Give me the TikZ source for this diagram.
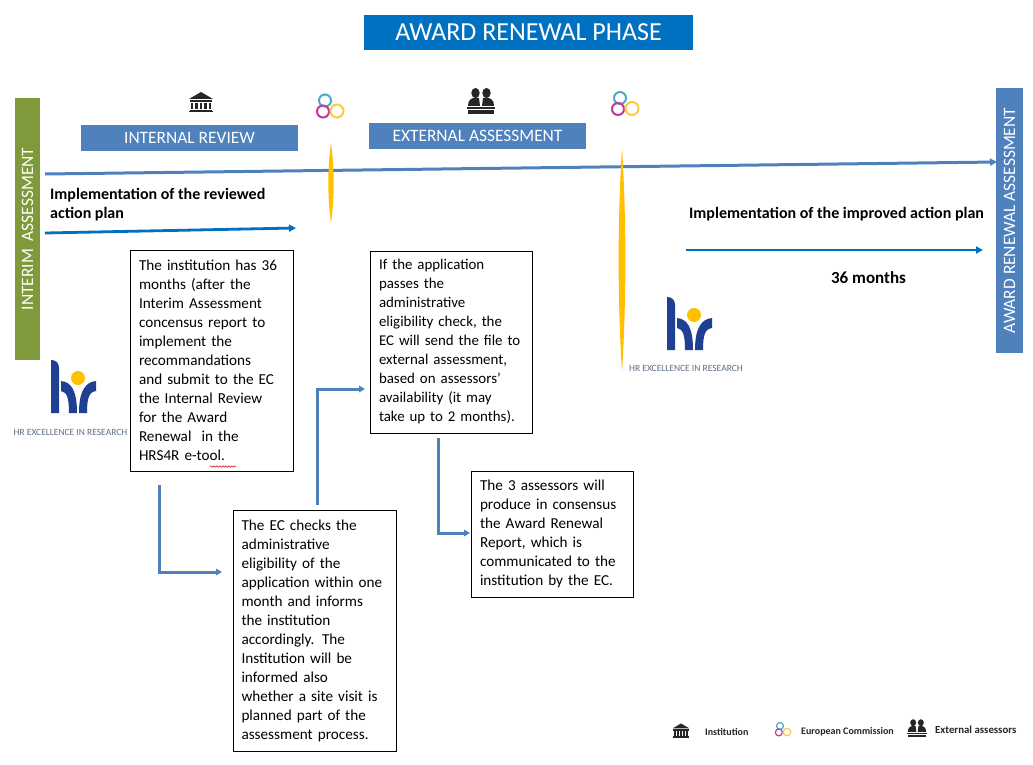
\documentclass[tikz,border=0pt]{standalone}
\usepackage{fontspec}
\setmainfont{Carlito}
\usetikzlibrary{arrows.meta,decorations.pathmorphing}
\definecolor{titleblue}{HTML}{0070C0}
\definecolor{bandblue}{HTML}{4F81BD}
\definecolor{olive}{HTML}{7F9A3B}
\definecolor{gold}{HTML}{FFC000}
\definecolor{hrblue}{HTML}{1F3F93}
\definecolor{hrgrey}{HTML}{5F6E88}
\definecolor{icon}{HTML}{262626}
\definecolor{ringteal}{HTML}{4BACC6}
\definecolor{ringmag}{HTML}{C0399B}
\definecolor{ringyel}{HTML}{FFC83D}
\tikzset{
  band/.style={fill=bandblue,text=white,inner sep=0pt,font=\fontsize{17.4}{20}\selectfont},
  textbox/.style={draw=black,line width=0.9pt,fill=white,align=left,inner xsep=8.5pt,inner ysep=0pt,
    font=\fontsize{15.2}{19}\selectfont},
  strong/.style={font=\fontsize{16}{19}\selectfont\bfseries,align=left,inner sep=0pt},
  legendtxt/.style={font=\fontsize{10}{12}\selectfont\bfseries,inner sep=0pt,text=icon,anchor=west},
  hrtxt/.style={font=\fontsize{9.5}{12}\selectfont,text=hrgrey,inner sep=0pt},
  mainarrow/.style={draw=titleblue,line width=2.8pt,-{Triangle[length=7pt,width=7pt]}},
  longarrow/.style={draw=bandblue,line width=3pt,-{Triangle[length=7pt,width=7pt]}},
  elbow/.style={draw=bandblue,line width=3pt,-{Triangle[length=6pt,width=6.5pt]}},
  pics/rings/.style={code={
    \draw[line width=#1pt,draw=ringteal] (0,0) circle (6);
    \draw[line width=#1pt,draw=ringmag] (-2,11) circle (6);
    \draw[line width=#1pt,draw=ringyel] (12,10.5) circle (6.5);
  }},
  pics/bank/.style={code={
    \fill[icon] (0,-10) -- (12,-3) -- (-12,-3) -- cycle;
    \fill[icon] (-11,-2) rectangle (11,0);
    \foreach \q in {-9,-4.5,0,4.5,9}{\fill[icon] (\q-1.4,1) rectangle (\q+1.4,7.5);}
    \fill[icon] (-11,8) rectangle (11,9.5);
    \fill[icon] (-12,9.5) rectangle (12,10.5);
  }},
  pics/assessors/.style={code={
    \fill[icon] (-5.5,-9) ellipse [x radius=4.2,y radius=5];
    \fill[icon] (5.5,-9) ellipse [x radius=4.2,y radius=5];
    \fill[icon] (-13,4) .. controls (-13,-2) and (-10,-4) .. (-5,-4.5) -- (-2,-4) -- (-1,4) -- cycle;
    \fill[icon] (13,4) .. controls (13,-2) and (10,-4) .. (5,-4.5) -- (2,-4) -- (1,4) -- cycle;
    \fill[icon] (-14,5) rectangle (14,7);
    \fill[icon] (-13,8) rectangle (13,12);
  }},
  pics/hrlogo/.style={code={
    \fill[hrblue] (0,0) .. controls (5,0) and (8,3) .. (8,8) -- (8,53) -- (0,53) -- cycle;
    \fill[hrblue] (10,21) .. controls (20,22) and (26,30) .. (26,53) -- (18,53)
       .. controls (18,38) and (16,32) .. (10,31) -- cycle;
    \fill[hrblue] (45,21) .. controls (35,22) and (28,30) .. (28,53) -- (36,53)
       .. controls (36,38) and (38,32) .. (45,31) -- cycle;
    \fill[gold] (27,18) circle (7);
  }},
}
\begin{document}
\begin{tikzpicture}[x=1pt,y=-1pt]
\useasboundingbox (0,0) rectangle (1033,765);
\fill[white] (0,0) rectangle (1033,765);

% title and bands
\node[fill=titleblue,text=white,inner sep=0pt,minimum width=329pt,minimum height=35pt,
  font=\fontsize{26}{30}\selectfont] (title) at (528.5,32.5) {\raisebox{-1pt}{AWARD RENEWAL PHASE}};
\node[band,minimum width=217pt,minimum height=26pt] (internal) at (189.5,138) {INTERNAL REVIEW};
\node[band,minimum width=217pt,minimum height=26pt] (external) at (477.5,136) {EXTERNAL ASSESSMENT};
\node[fill=olive,text=white,inner sep=0pt,rotate=90,minimum width=262pt,minimum height=25pt,
  font=\fontsize{17.4}{20}\selectfont] (interim) at (27.5,229) {INTERIM\ \ ASSESSMENT};
\node[band,rotate=90,minimum width=265pt,minimum height=27pt] (renewal) at (1009.5,220.5) {AWARD RENEWAL ASSESSMENT};

% long arrows
\coordinate (longstart) at (45,174);
\coordinate (longend) at (997,162);
\draw[longarrow] (longstart) -- (longend);
\coordinate (revstart) at (45,233);
\coordinate (revend) at (296,228);
\draw[mainarrow] (revstart) -- (revend);
\coordinate (impstart) at (686,250);
\coordinate (impend) at (983,250);
\draw[mainarrow] (impstart) -- (impend);

% gold milestones
\fill[gold] (331,143) .. controls (334.6,170) and (334.6,196) .. (331,223)
  .. controls (327.4,196) and (327.4,170) .. (331,143) -- cycle;
\fill[gold] (622,148) .. controls (626.5,220) and (626.5,300) .. (622,372)
  .. controls (617.5,300) and (617.5,220) .. (622,148) -- cycle;

% labels
\node[strong,anchor=north west] (revlabel) at (50,188) {Implementation of the reviewed\\action plan};
\node[strong,anchor=west] (implabel) at (689,214) {Implementation of the improved action plan};
\node[strong,font=\fontsize{17}{19}\selectfont\bfseries] (months) at (868.5,278) {36 months};

% text boxes
\node[textbox,text width=146pt,minimum height=221pt] (box1) at (212,360.5) {The institution has 36\\months (after the\\Interim Assessment\\concensus report to\\implement the\\recommandations\\and submit to the EC\\the Internal Review\\for the Award\\Renewal\ \ in the\\HRS4R e-tool.};
\node[textbox,text width=146pt,minimum height=241pt] (box2) at (314.5,631) {The EC checks the\\administrative\\eligibility of the\\application within one\\month and informs\\the institution\\accordingly. The\\Institution will be\\informed also\\whether a site visit is\\planned part of the\\assessment process.};
\node[textbox,text width=145pt,minimum height=182pt,font=\fontsize{14.9}{19}\selectfont] (box3) at (451.5,342) {If the application\\passes the\\administrative\\eligibility check, the\\EC will send the file to\\external assessment,\\based on assessors’\\availability (it may\\take up to 2 months).};
\node[textbox,text width=145pt,minimum height=126pt] (box4) at (552.5,534) {The 3 assessors will\\produce in consensus\\the Award Renewal\\Report, which is\\communicated to the\\institution by the EC.};
\coordinate (sqA) at (210,466.5);
\coordinate (sqB) at (236,466.5);
\draw[red!80!black,line width=0.5pt,decorate,decoration={snake,amplitude=0.7pt,segment length=3pt}] (sqA) -- (sqB);

% elbow connectors
\coordinate (e1s) at (159,485);
\coordinate (e1e) at (222,572);
\draw[elbow] (e1s) |- (e1e);
\coordinate (e2s) at (317,505);
\coordinate (e2e) at (365,389);
\draw[elbow] (e2s) |- (e2e);
\coordinate (e3s) at (438,438);
\coordinate (e3e) at (470,533);
\draw[elbow] (e3s) |- (e3e);

% icons
\pic at (201,102) {bank};
\pic at (481,102) {assessors};
\pic at (325,100.5) {rings=2};
\pic at (620,98) {rings=2};

% hr logos
\pic at (51,360) {hrlogo};
\node[hrtxt] (hr1) at (70.5,432) {HR EXCELLENCE IN RESEARCH};
\pic at (667,297) {hrlogo};
\node[hrtxt] (hr2) at (686,368) {HR EXCELLENCE IN RESEARCH};

% legend
\pic[scale=0.7] at (681,730.5) {bank};
\node[legendtxt] (leg1) at (705,732.5) {Institution};
\pic[scale=0.58] at (780,726) {rings=1.2};
\node[legendtxt] (leg2) at (801,732) {European Commission};
\pic[scale=0.7] at (917,729) {assessors};
\node[legendtxt,font=\fontsize{10.8}{12}\selectfont\bfseries] (leg3) at (935,729.5) {External assessors};
\end{tikzpicture}
\end{document}
